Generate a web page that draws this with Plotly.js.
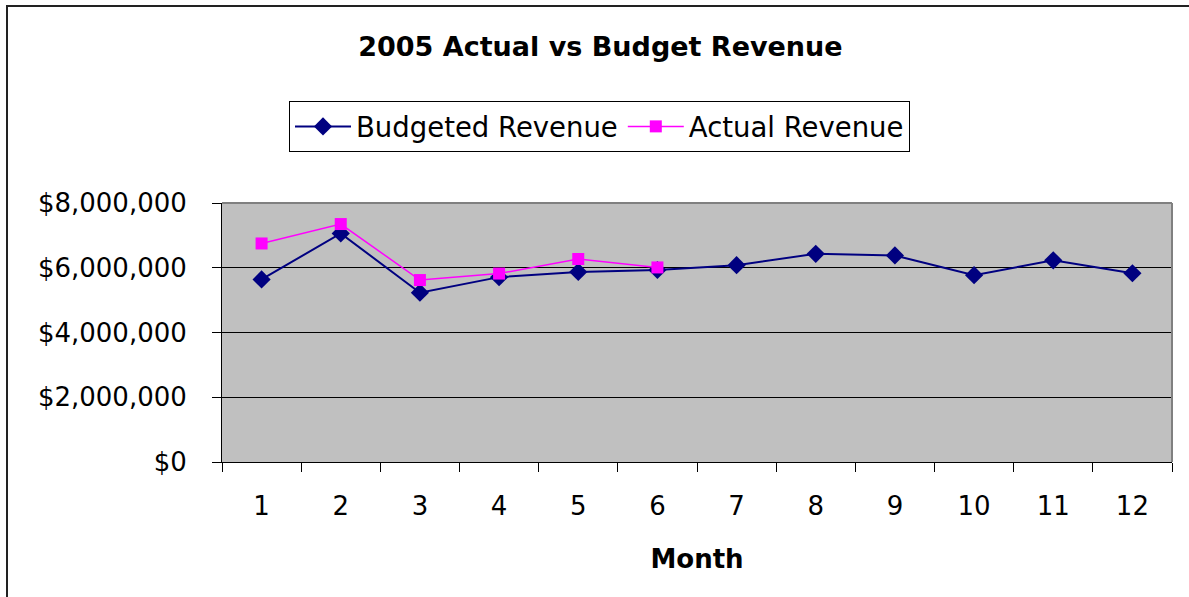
<!DOCTYPE html>
<html>
<head>
<meta charset="utf-8">
<script src="https://cdn.plot.ly/plotly-3.0.1.min.js"></script>
<style>
  html, body { margin: 0; padding: 0; background: #fff; overflow: hidden; }
  #chart { width: 1189px; height: 597px; position: absolute; left: 0; top: 0; }
  #frame { position: absolute; left: 6px; top: 5px; width: 1200px; height: 600px;
           border-top: 2px solid #222; border-left: 2px solid #222; pointer-events: none; }
</style>
</head>
<body>
<div id="chart"></div>
<div id="frame"></div>
<script>
const months = ["1","2","3","4","5","6","7","8","9","10","11","12"];
const budgetedRevenue = [5640000, 7060000, 5230000, 5710000, 5870000, 5930000, 6080000, 6430000, 6380000, 5770000, 6230000, 5830000];
const actualMonths = ["1","2","3","4","5","6"];
const actualRevenue = [6750000, 7350000, 5620000, 5820000, 6270000, 6010000];
const yTickVals = [0, 2000000, 4000000, 6000000, 8000000];
const yTickText = ["$0", "$2,000,000", "$4,000,000", "$6,000,000", "$8,000,000"];

const font = "DejaVu Sans, Liberation Sans, Arial, sans-serif";

const traces = [
  {
    x: months, y: budgetedRevenue, name: "Budgeted Revenue",
    type: "scatter", mode: "lines+markers",
    line: { color: "#000080", width: 2 },
    marker: { symbol: "diamond", size: 14, color: "#000080" }
  },
  {
    x: actualMonths, y: actualRevenue, name: "Actual Revenue",
    type: "scatter", mode: "lines+markers",
    line: { color: "#FF00FF", width: 1.5 },
    marker: { symbol: "square", size: 12, color: "#FF00FF" }
  }
];

const layout = {
  width: 1189, height: 597,
  margin: { l: 222, r: 17, t: 203, b: 135 },
  paper_bgcolor: "rgba(0,0,0,0)",
  plot_bgcolor: "#C0C0C0",
  font: { family: font, size: 26, color: "#000" },
  showlegend: true,
  title: {
    text: "<b>2005 Actual vs Budget Revenue</b>",
    font: { family: font, size: 27, color: "#000" },
    x: 0.505, xanchor: "center",
    y: 1 - 47 / 597, yref: "container", yanchor: "middle"
  },
  legend: {
    orientation: "h",
    x: (289 - 222) / 950, xanchor: "left",
    y: (462 - 101) / 259, yanchor: "top",
    bgcolor: "#fff", bordercolor: "#000", borderwidth: 1,
    font: { family: font, size: 27.5, color: "#000" },
    itemwidth: 56, traceorder: "normal"
  },
  xaxis: {
    type: "category",
    categoryorder: "array", categoryarray: months,
    range: [-0.5, 11.5],
    tickson: "boundaries",
    ticks: "outside", ticklen: 9, tickcolor: "#000", tickwidth: 1,
    showline: true, linecolor: "#000", linewidth: 1,
    showgrid: false, zeroline: false,
    tickfont: { family: font, size: 26, color: "#000" },
    ticklabelstandoff: 21,
    title: { text: "<b>Month</b>", font: { family: font, size: 26, color: "#000" }, standoff: 29 },
    fixedrange: true
  },
  yaxis: {
    range: [0, 8000000],
    tickvals: yTickVals, ticktext: yTickText,
    ticks: "outside", ticklen: 9, tickcolor: "#000", tickwidth: 1,
    showline: true, linecolor: "#000", linewidth: 1,
    showgrid: true, gridcolor: "#000", gridwidth: 1,
    zeroline: false,
    tickfont: { family: font, size: 26, color: "#000" },
    ticklabelstandoff: 20,
    fixedrange: true
  },
  shapes: [
    { type: "line", xref: "paper", yref: "paper", x0: 0, x1: 1, y0: 1, y1: 1, line: { color: "#808080", width: 2 } },
    { type: "line", xref: "paper", yref: "paper", x0: 1, x1: 1, y0: 0, y1: 1, line: { color: "#808080", width: 2 } }
  ]
};

Plotly.newPlot("chart", traces, layout, { displayModeBar: false, staticPlot: true });
</script>
</body>
</html>
